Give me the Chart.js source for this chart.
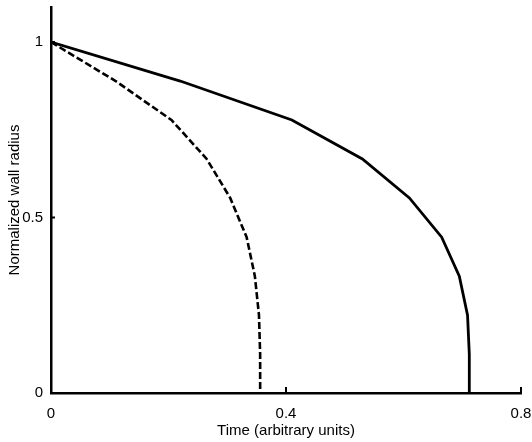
<!DOCTYPE html>
<html>
<head>
<meta charset="utf-8">
<script src="https://cdn.jsdelivr.net/npm/chart.js@4"></script>
<style>
    html, body { margin: 0; padding: 0; background: #fff; }
    #wrap { width: 532px; height: 442px; }
</style>
</head>
<body>
<div id="wrap"><canvas id="wallChart"></canvas></div>
<script>
// values
const solidTime = [0, 0.22, 0.41, 0.53, 0.61, 0.665, 0.695, 0.709, 0.712, 0.712];
const solidRadius = [1, 0.889, 0.778, 0.667, 0.556, 0.444, 0.333, 0.222, 0.111, 0];
const dashedTime = [0, 0.11, 0.205, 0.265, 0.305, 0.333, 0.347, 0.354, 0.356, 0.356];
const dashedRadius = [1, 0.889, 0.778, 0.667, 0.556, 0.444, 0.333, 0.222, 0.111, 0];
const xTicks = [0, 0.4, 0.8];
const yTicks = [0, 0.5, 1];

const toPoints = (xs, ys) => xs.map((x, i) => ({ x: x, y: ys[i] }));

// small inward tick marks, like the original plot
const innerTicks = {
    id: 'innerTicks',
    afterDraw(chart) {
        const ctx = chart.ctx;
        const xs = chart.scales.x;
        const ys = chart.scales.y;
        const area = chart.chartArea;
        ctx.save();
        ctx.strokeStyle = '#000';
        ctx.lineWidth = 2;
        ctx.beginPath();
        xTicks.forEach(v => {
            const px = xs.getPixelForValue(v);
            ctx.moveTo(px, area.bottom);
            ctx.lineTo(px, area.bottom - 6);
        });
        yTicks.forEach(v => {
            const py = ys.getPixelForValue(v);
            ctx.moveTo(area.left, py);
            ctx.lineTo(area.left + 4, py);
        });
        ctx.stroke();
        ctx.restore();
    }
};

const fontSpec = { family: '"Liberation Sans", Arial, sans-serif', size: 15 };

new Chart(document.getElementById('wallChart'), {
    type: 'scatter',
    data: {
        datasets: [{
            data: toPoints(solidTime, solidRadius),
            showLine: true,
            borderColor: '#000',
            borderWidth: 2.8,
            pointRadius: 0,
            tension: 0
        }, {
            data: toPoints(dashedTime, dashedRadius),
            showLine: true,
            borderColor: '#000',
            borderWidth: 2.6,
            borderDash: [7, 3],
            pointRadius: 0,
            tension: 0
        }]
    },
    options: {
        responsive: true,
        maintainAspectRatio: false,
        animation: false,
        layout: { padding: { top: 7, right: 11, left: 0, bottom: 0 } },
        plugins: {
            legend: { display: false },
            tooltip: { enabled: false }
        },
        scales: {
            x: {
                type: 'linear',
                min: 0,
                max: 0.8,
                afterBuildTicks: scale => { scale.ticks = xTicks.map(v => ({ value: v })); },
                afterFit: scale => {
                    scale.height = 49;
                    scale.paddingLeft = 0;
                    scale.paddingRight = 0;
                },
                grid: { display: false, drawTicks: false },
                border: { display: true, color: '#000', width: 2.5 },
                ticks: {
                    color: '#000', font: fontSpec, padding: 12, maxRotation: 0, autoSkip: false,
                    callback: v => String(v)
                },
                title: {
                    display: true,
                    text: 'Time (arbitrary units)',
                    color: '#000',
                    font: fontSpec,
                    padding: { top: 0, bottom: 2 }
                }
            },
            y: {
                type: 'linear',
                min: 0,
                max: 1.1,
                afterBuildTicks: scale => { scale.ticks = yTicks.map(v => ({ value: v })); },
                afterFit: scale => {
                    scale.width = 51;
                    scale.paddingTop = 0;
                    scale.paddingBottom = 0;
                },
                grid: { display: false, drawTicks: false },
                border: { display: true, color: '#000', width: 2.5 },
                ticks: {
                    color: '#000', font: fontSpec, padding: 8, autoSkip: false,
                    callback: v => String(v)
                },
                title: {
                    display: true,
                    text: 'Normalized wall radius',
                    color: '#000',
                    font: fontSpec,
                    padding: { top: 6, bottom: 4 }
                }
            }
        }
    },
    plugins: [innerTicks]
});
</script>
</body>
</html>
